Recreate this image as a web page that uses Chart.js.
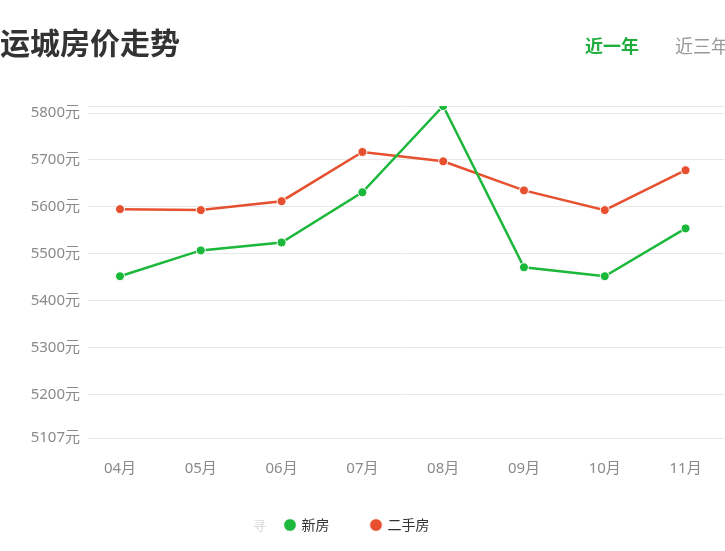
<!DOCTYPE html>
<html><head><meta charset="utf-8">
<script src="https://cdn.jsdelivr.net/npm/chart.js@4/dist/chart.umd.min.js"></script>
<style>
html,body{margin:0;padding:0;background:#fff;overflow:hidden;width:725px;height:551px;}
#wrap{position:relative;width:725px;height:551px;overflow:hidden;}
#title{position:absolute;left:0;top:21px;font-family:"Noto Sans CJK SC",sans-serif;font-weight:bold;font-size:30px;line-height:40px;color:#333;white-space:nowrap;}
#tab1{position:absolute;left:585px;top:32px;font-family:"Noto Sans CJK SC",sans-serif;font-weight:bold;font-size:18px;line-height:26px;color:#1fae3d;white-space:nowrap;}
#tab2{position:absolute;left:675px;top:32px;font-family:"Noto Sans CJK SC",sans-serif;font-size:18px;line-height:26px;color:#999;white-space:nowrap;}
#faint{position:absolute;left:253px;top:516px;font-family:"Noto Sans CJK SC",sans-serif;font-size:13px;line-height:18px;color:#d8d8d8;}
canvas{position:absolute;left:0;top:0;}
</style></head>
<body><div id="wrap">
<canvas id="c" width="730" height="551"></canvas>
<div id="title">运城房价走势</div>
<div id="tab1">近一年</div>
<div id="tab2">近三年</div>
<div id="faint">寻</div>
</div>
<script>
const categories = ["04月","05月","06月","07月","08月","09月","10月","11月"];
const newHouse = [5452, 5507, 5524, 5631, 5815, 5471, 5452, 5554];
const secondHand = [5595, 5593, 5612, 5717, 5697, 5635, 5593, 5678];
const yTicks = [5107, 5200, 5300, 5400, 5500, 5600, 5700, 5800, 5815];
const yUnit = "元";

const green = "#1cb83c";
const red = "#e6502e";
const tickFont = '"Noto Sans", "Noto Sans CJK SC", sans-serif';

function toPoints(arr){ return arr.map((v,i)=>({x:i,y:v})); }

new Chart(document.getElementById('c'), {
  type: 'line',
  data: {
    datasets: [
      {label:'新房', data: toPoints(newHouse), borderColor: green, backgroundColor: green,
       pointBackgroundColor: green, pointBorderColor: '#ffffff', pointBorderWidth: 1,
       pointRadius: 4.5, borderWidth: 2.5, tension: 0},
      {label:'二手房', data: toPoints(secondHand), borderColor: red, backgroundColor: red,
       pointBackgroundColor: red, pointBorderColor: '#ffffff', pointBorderWidth: 1,
       pointRadius: 4.5, borderWidth: 2.5, tension: 0}
    ]
  },
  options: {
    responsive: false,
    animation: false,
    layout: {padding: {top: 106, left: -20, right: -5, bottom: 9}},
    plugins: {
      tooltip: {enabled: false},
      legend: {
        position: 'bottom',
        labels: {
          usePointStyle: true, pointStyle: 'circle', boxWidth: 9, boxHeight: 9,
          padding: 42, color: '#333',
          font: {family: '"Noto Sans CJK SC", sans-serif', size: 14}
        }
      }
    },
    scales: {
      x: {
        type: 'linear', min: -0.396, max: 7.482,
        afterBuildTicks: s => { s.ticks = categories.map((_, i) => ({value: i})); },
        afterFit: s => { s.height = 38; s.paddingLeft = 0; s.paddingRight = 0; },
        grid: {display: false, drawTicks: false},
        border: {display: false},
        ticks: {
          padding: 22, color: '#8a8a8a', maxRotation: 0, autoSkip: false,
          font: {family: tickFont, size: 15},
          callback: v => categories[v]
        }
      },
      y: {
        min: 5107, max: 5815,
        afterBuildTicks: s => { s.ticks = yTicks.map(v => ({value: v})); },
        afterFit: s => { s.width = 108; s.paddingTop = 0; s.paddingBottom = 0; s.paddingLeft = 0; s.paddingRight = 0; },
        grid: {color: '#e8e8e8', lineWidth: 1, drawTicks: false},
        border: {display: false},
        ticks: {
          padding: 8, color: '#8a8a8a',
          font: {family: tickFont, size: 15},
          callback: v => (v === 5815 ? '' : v + yUnit)
        }
      }
    }
  }
});
</script>
</body></html>
